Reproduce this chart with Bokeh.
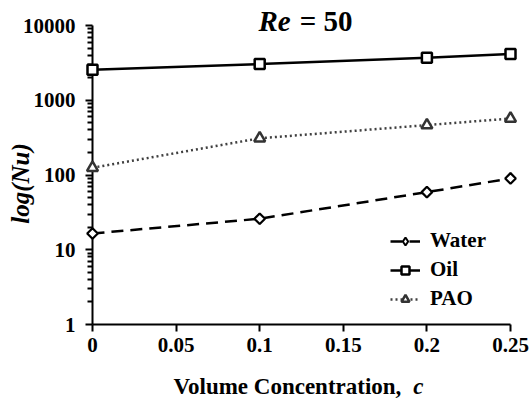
import math
from bokeh.plotting import figure
from bokeh.models import (Range1d, FixedTicker, NumeralTickFormatter,
                          Legend, LegendItem, ColumnDataSource)
from bokeh.core.properties import value
from bokeh.embed import file_html
from bokeh.resources import INLINE

# ---- data ----
conc = [0.0, 0.1, 0.2, 0.25]
water = [16.5, 26.0, 59.0, 90.0]
oil = [2550.0, 3050.0, 3700.0, 4150.0]
pao = [125.0, 310.0, 465.0, 570.0]
x_ticks = [0, 0.05, 0.1, 0.15, 0.2, 0.25]
y_ticks = [1, 10, 100, 1000, 10000]
y_minor = [m * 10 ** d for d in range(4) for m in range(2, 10)]

FONT = "Liberation Serif"
LEFT, TOP, RIGHT, BOTTOM = 92, 25, 22, 79
W, H = 532, 403
BASE_SHIFT = 9  # rendered text sits this many px below the requested baseline

p = figure(width=W, height=H, y_axis_type="log",
           x_range=Range1d(0, 0.25), y_range=Range1d(1, 10000),
           output_backend="svg", toolbar_location=None,
           min_border_left=LEFT, min_border_right=RIGHT,
           min_border_top=TOP, min_border_bottom=BOTTOM)
p.outline_line_color = None
p.xgrid.visible = False
p.ygrid.visible = False
p.background_fill_color = "white"
p.border_fill_color = "white"

# axes
for ax in (p.xaxis[0], p.yaxis[0]):
    ax.axis_line_width = 2
    ax.axis_line_color = "black"
    ax.major_tick_line_width = 2
    ax.major_tick_line_color = "black"
    ax.major_tick_in = 0
    ax.major_tick_out = 7
    ax.major_label_text_font = FONT
    ax.major_label_text_font_style = "bold"
    ax.major_label_text_font_size = "21px"
    ax.major_label_text_color = "black"

p.xaxis.ticker = FixedTicker(ticks=x_ticks)
p.xaxis.formatter = NumeralTickFormatter(format="0.[00]")
p.xaxis.minor_tick_line_color = None
p.xaxis.major_label_standoff = 6

p.yaxis.ticker = FixedTicker(ticks=y_ticks, minor_ticks=y_minor)
p.yaxis.formatter = NumeralTickFormatter(format="0")
p.yaxis.minor_tick_in = 0
p.yaxis.minor_tick_out = 5
p.yaxis.minor_tick_line_width = 2
p.yaxis.minor_tick_line_color = "black"
p.yaxis.major_label_standoff = 10

# series
water_src = ColumnDataSource(dict(x=conc, y=water))
lw = p.line("x", "y", source=water_src, line_color="black", line_width=2.5,
            line_dash="12 7", level="overlay")
# diamond key glyph (used by the legend), drawn underneath the open marker
sw_key = p.scatter("x", "y", source=water_src, marker="diamond", size=10,
                   fill_color="white", line_color="black", line_width=2,
                   level="overlay")
sw = p.scatter("x", "y", source=water_src, marker="square", angle=math.pi / 4,
               size=7.5, fill_color="white", line_color="black",
               line_width=2.2, level="overlay")
lo = p.line(conc, oil, line_color="black", line_width=2.5, level="overlay")
so = p.scatter(conc, oil, marker="square", size=10, fill_color="white",
               line_color="black", line_width=2.5, level="overlay")
lp = p.line(conc, pao, line_color="#404040", line_width=2.5,
            line_dash="2 3", level="overlay")
sp = p.scatter(conc, pao, marker="triangle", size=11, fill_color="white",
               line_color="#333333", line_width=2.5, level="overlay")

legend = Legend(items=[LegendItem(label="Water", renderers=[lw, sw_key]),
                       LegendItem(label="Oil", renderers=[lo, so]),
                       LegendItem(label="PAO", renderers=[lp, sp])],
                location=(298, 13))
legend.label_text_font = FONT
legend.label_text_font_style = "bold"
legend.label_text_font_size = "21px"
legend.label_text_color = "black"
legend.label_height = 20
legend.glyph_height = 20
legend.glyph_width = 30
legend.label_standoff = 10
legend.spacing = 4
legend.padding = 0
legend.margin = 0
legend.border_line_color = None
legend.background_fill_alpha = 0
p.add_layout(legend)


# texts: anchored at the frame's bottom-left corner (x=0, y=1), offset in
# canvas pixels so they may sit outside the plotting frame
def txt(text, cx, cy, size, style, align="left", angle=0.0):
    if angle:
        cx -= BASE_SHIFT
    else:
        cy -= BASE_SHIFT
    p.text(x=[0], y=[1], text=[text],
           x_offset=cx - LEFT, y_offset=cy - (H - BOTTOM), angle=angle,
           text_font=value(FONT), text_font_size=value(size),
           text_font_style=style, text_align=align,
           text_baseline="alphabetic", text_color="black", level="overlay")


txt("Re", 258, 29, "29px", "bold italic")
txt("= 50", 352, 29, "29px", "bold", align="right")
txt("Volume Concentration,", 173, 395, "23px", "bold")
txt("c", 423, 395, "23px", "bold italic", align="right")
txt("log(Nu)", 29, 183, "25px", "bold italic", align="center",
    angle=math.pi / 2)

open("out.html", "w").write(file_html(p, INLINE))
